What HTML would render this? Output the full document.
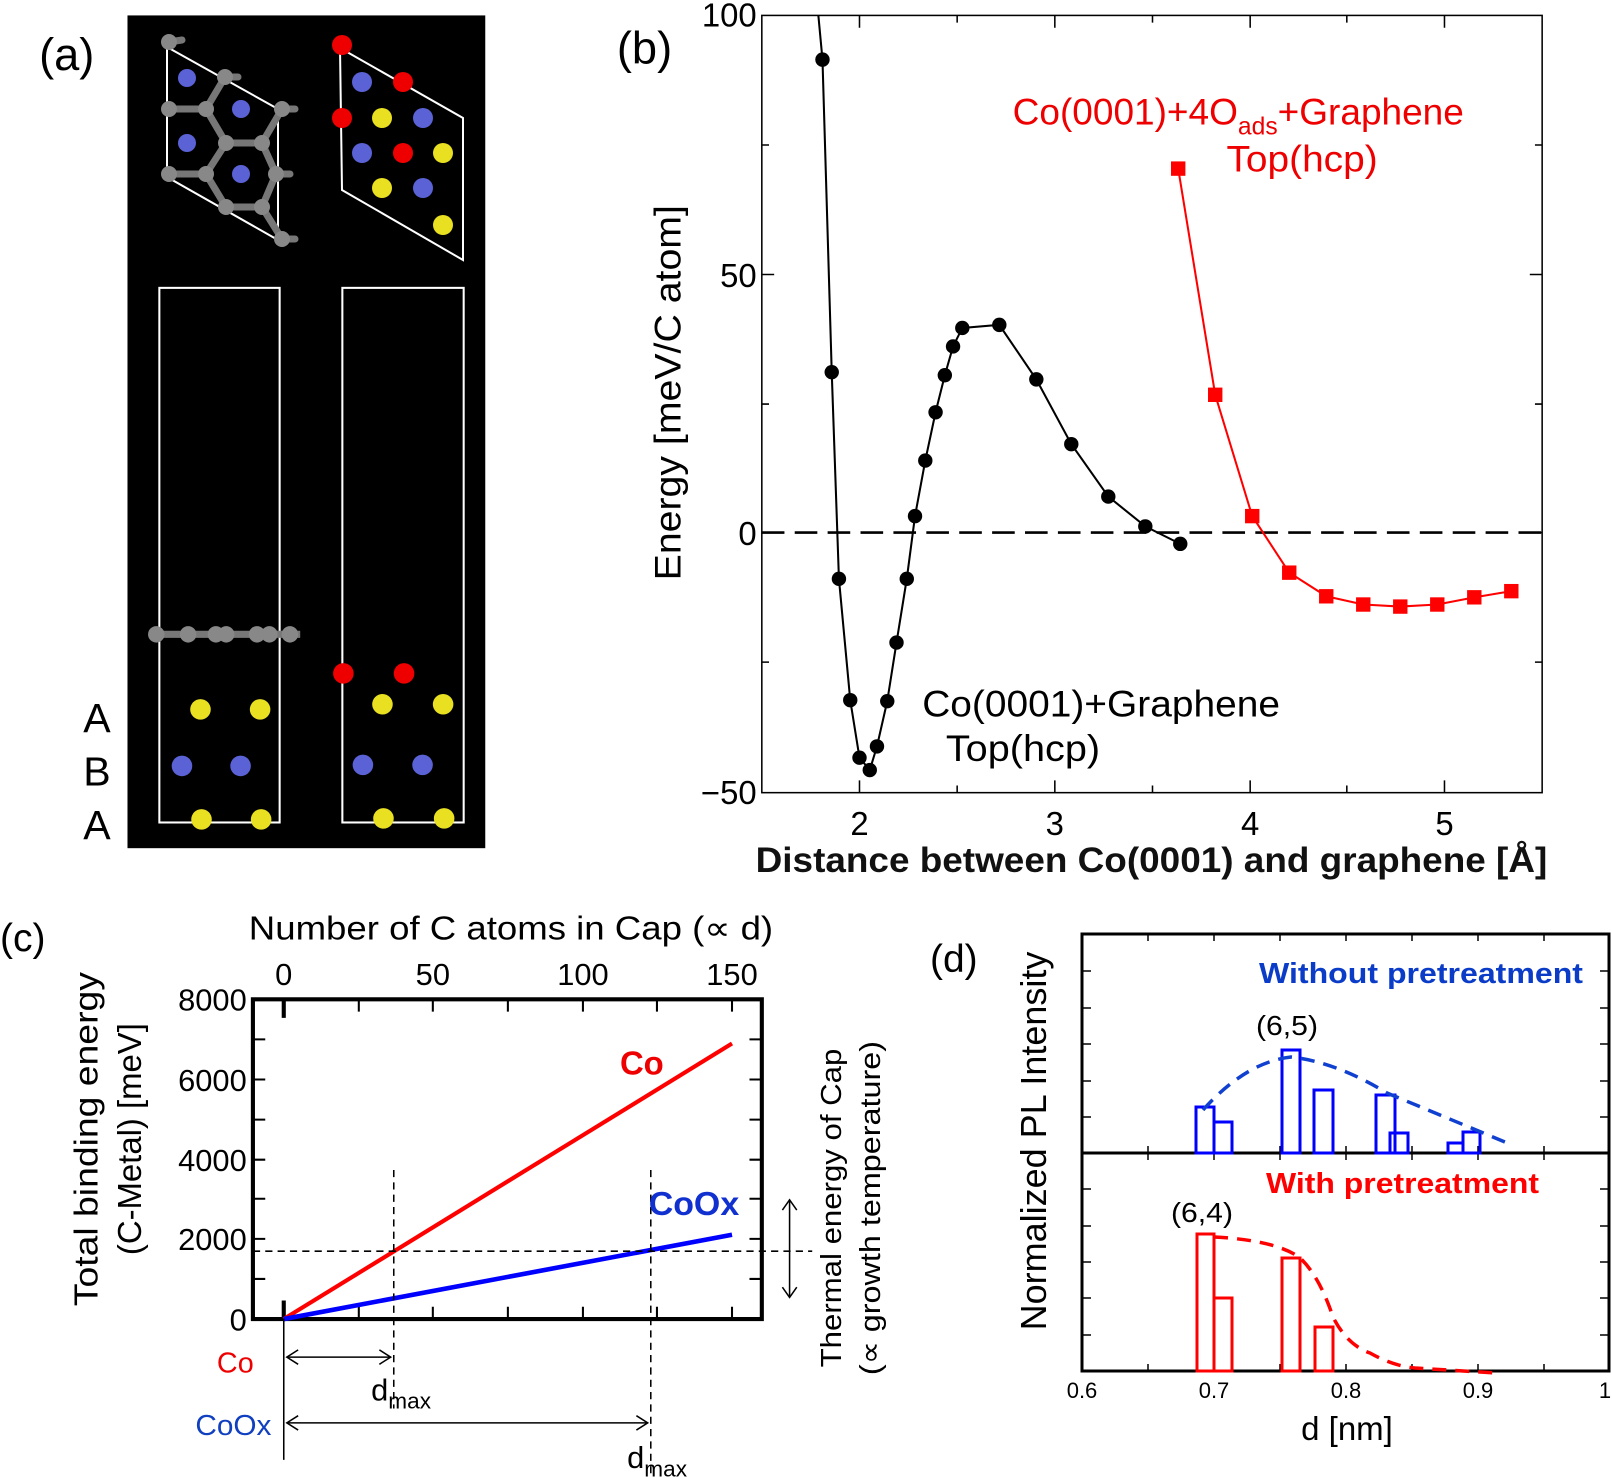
<!DOCTYPE html>
<html><head><meta charset="utf-8"><style>
body{margin:0;background:#fff}
svg{display:block;font-family:"Liberation Sans",sans-serif}
</style></head><body>
<svg width="1612" height="1477" viewBox="0 0 1612 1477" xmlns="http://www.w3.org/2000/svg">
<g transform="scale(1.0281)">
<!-- Panel a -->
<text x="38" y="68" font-size="44">(a)</text>
<rect x="124" y="15" width="348" height="810" fill="#000"/>
<g stroke="#fff" stroke-width="2" fill="none">
<rect x="155" y="280" width="117" height="520"/>
<rect x="333" y="280" width="118" height="520"/>
</g>
<line x1="146" y1="617" x2="292" y2="617" stroke="#777" stroke-width="7"/>
<g fill="#888">
<circle cx="152" cy="617" r="8"/><circle cx="183" cy="617" r="8"/><circle cx="210" cy="617" r="8"/><circle cx="220" cy="617" r="8"/><circle cx="250" cy="617" r="8"/><circle cx="262" cy="617" r="8"/><circle cx="282" cy="617" r="8"/>
</g>
<g fill="#5a62d6"><circle cx="177" cy="745" r="10"/><circle cx="234" cy="745" r="10"/><circle cx="353" cy="744" r="10"/><circle cx="411" cy="744" r="10"/></g>
<g fill="#e00"><circle cx="334" cy="655" r="10"/><circle cx="393" cy="655" r="10"/></g>
<g fill="#e8e020">
<circle cx="195" cy="690" r="10"/><circle cx="253" cy="690" r="10"/><circle cx="196" cy="797" r="10"/><circle cx="254" cy="797" r="10"/>
<circle cx="372" cy="685" r="10"/><circle cx="431" cy="685" r="10"/><circle cx="373" cy="796" r="10"/><circle cx="432" cy="796" r="10"/>
</g>
<g font-size="40"><text x="81" y="712">A</text><text x="81" y="764">B</text><text x="81" y="816">A</text></g>

<!-- Panel b -->
<text x="600" y="62" font-size="44">(b)</text>
<rect x="741" y="15" width="759" height="756" fill="none" stroke="#000" stroke-width="1.5"/>
<g stroke="#000" stroke-width="1.5">
<path d="M836,771v-12M1026,771v-12M1216,771v-12M1405,771v-12M836,15v12M1026,15v12M1216,15v12M1405,15v12"/>
<path d="M931,771v-7M1121,771v-7M1310,771v-7M931,15v7M1121,15v7M1310,15v7"/>
<path d="M741,267h12M741,518h12M1500,267h-12M1500,518h-12M741,141h7M741,393h7M741,644h7M1500,141h-7M1500,393h-7M1500,644h-7"/>
</g>
<line x1="741" y1="518" x2="1500" y2="518" stroke="#000" stroke-width="2.5" stroke-dasharray="22,10"/>
<g font-size="32" text-anchor="end"><text x="736" y="26">100</text><text x="736" y="279">50</text><text x="736" y="530">0</text><text x="736" y="782">−50</text></g>
<g font-size="32" text-anchor="middle"><text x="836" y="812">2</text><text x="1026" y="812">3</text><text x="1216" y="812">4</text><text x="1405" y="812">5</text></g>
<text x="735" y="848" font-size="34" font-weight="bold" fill="#111" textLength="770" lengthAdjust="spacingAndGlyphs">Distance between Co(0001) and graphene [Å]</text>
<text transform="translate(662,382) rotate(-90)" font-size="36" text-anchor="middle" textLength="365" lengthAdjust="spacingAndGlyphs">Energy [meV/C atom]</text>
<polyline fill="none" stroke="#000" stroke-width="2" points="796,15 800,58 809,362 816,563 827,681 836,737 846,749 853,726 863,682 872,625 882,563 890,502 900,448 910,401 919,365 927,337 936,319 972,316 1008,369 1042,432 1078,483 1114,512 1148,529"/>
<g fill="#000">
<circle cx="800" cy="58" r="7"/><circle cx="809" cy="362" r="7"/><circle cx="816" cy="563" r="7"/><circle cx="827" cy="681" r="7"/><circle cx="836" cy="737" r="7"/><circle cx="846" cy="749" r="7"/><circle cx="853" cy="726" r="7"/><circle cx="863" cy="682" r="7"/><circle cx="872" cy="625" r="7"/><circle cx="882" cy="563" r="7"/><circle cx="890" cy="502" r="7"/><circle cx="900" cy="448" r="7"/><circle cx="910" cy="401" r="7"/><circle cx="919" cy="365" r="7"/><circle cx="927" cy="337" r="7"/><circle cx="936" cy="319" r="7"/><circle cx="972" cy="316" r="7"/><circle cx="1008" cy="369" r="7"/><circle cx="1042" cy="432" r="7"/><circle cx="1078" cy="483" r="7"/><circle cx="1114" cy="512" r="7"/><circle cx="1148" cy="529" r="7"/>
</g>
<polyline fill="none" stroke="#f00" stroke-width="2" points="1146,164 1182,384 1218,502 1254,557 1290,580 1326,588 1362,590 1398,588 1434,581 1470,575"/>
<g fill="#f00">
<rect x="1139" y="157" width="14" height="14"/><rect x="1175" y="377" width="14" height="14"/><rect x="1211" y="495" width="14" height="14"/><rect x="1247" y="550" width="14" height="14"/><rect x="1283" y="573" width="14" height="14"/><rect x="1319" y="581" width="14" height="14"/><rect x="1355" y="583" width="14" height="14"/><rect x="1391" y="581" width="14" height="14"/><rect x="1427" y="574" width="14" height="14"/><rect x="1463" y="568" width="14" height="14"/>
</g>
<text x="985" y="121" font-size="36" fill="#e00">Co(0001)+4O<tspan font-size="24" dy="10">ads</tspan><tspan dy="-10">+Graphene</tspan></text>
<text x="1193" y="167" font-size="36" fill="#e00" textLength="147" lengthAdjust="spacingAndGlyphs">Top(hcp)</text>
<text x="897" y="697" font-size="36" textLength="348" lengthAdjust="spacingAndGlyphs">Co(0001)+Graphene</text>
<text x="920" y="740" font-size="36" textLength="150" lengthAdjust="spacingAndGlyphs">Top(hcp)</text>

<!-- Panel c -->
<text x="0" y="925" font-size="38">(c)</text>
<text x="497" y="914" font-size="32" text-anchor="middle" textLength="510" lengthAdjust="spacingAndGlyphs">Number of C atoms in Cap (∝ d)</text>
<g font-size="30" text-anchor="middle"><text x="276" y="958">0</text><text x="421" y="958">50</text><text x="567" y="958">100</text><text x="712" y="958">150</text></g>
<g font-size="30" text-anchor="end"><text x="240" y="983">8000</text><text x="240" y="1061">6000</text><text x="240" y="1139">4000</text><text x="240" y="1216">2000</text><text x="240" y="1294">0</text></g>
<rect x="246" y="972" width="495" height="311" fill="none" stroke="#000" stroke-width="4"/>
<g stroke="#000" stroke-width="2">
<path d="M349,972v12M421,972v12M494,972v12M567,972v12M639,972v12M712,972v12M349,1283v-12M421,1283v-12M494,1283v-12M567,1283v-12M639,1283v-12M712,1283v-12"/>
<path d="M246,1011h12M246,1050h12M246,1089h12M246,1128h12M246,1166h12M246,1205h12M246,1244h12M741,1011h-12M741,1050h-12M741,1089h-12M741,1128h-12M741,1166h-12M741,1205h-12M741,1244h-12"/>
</g>
<path d="M276,972v18M276,1283v-18" stroke="#000" stroke-width="4"/>
<line x1="276" y1="1283" x2="712" y2="1015" stroke="#f00" stroke-width="4"/>
<line x1="276" y1="1283" x2="712" y2="1201" stroke="#00f" stroke-width="4.5"/>
<g stroke="#000" stroke-width="1.5" stroke-dasharray="7,5" fill="none">
<line x1="246" y1="1217" x2="790" y2="1217"/>
<line x1="383" y1="1138" x2="383" y2="1370"/>
<line x1="633" y1="1138" x2="633" y2="1435"/>
</g>
<text x="603" y="1045" font-size="32" font-weight="bold" fill="#e00">Co</text>
<text x="631" y="1182" font-size="32" font-weight="bold" fill="#1030d0" textLength="88" lengthAdjust="spacingAndGlyphs">CoOx</text>
<g stroke="#000" stroke-width="1.5" fill="none">
<line x1="768" y1="1167" x2="768" y2="1262"/><path d="M761,1177l7,-10l7,10M761,1252l7,10l7,-10"/>
<line x1="276" y1="1283" x2="276" y2="1420"/>
<line x1="279" y1="1320" x2="380" y2="1320"/><path d="M290,1313l-11,7l11,7M369,1313l11,7l-11,7"/>
<line x1="279" y1="1384" x2="630" y2="1384"/><path d="M290,1377l-11,7l11,7M619,1377l11,7l-11,7"/>
</g>
<text x="211" y="1335" font-size="28" fill="#e00">Co</text>
<text x="190" y="1396" font-size="28" fill="#1040c0" textLength="74" lengthAdjust="spacingAndGlyphs">CoOx</text>
<text x="361" y="1362" font-size="30">d<tspan font-size="22" dy="8">max</tspan></text>
<text x="610" y="1428" font-size="30">d<tspan font-size="22" dy="8">max</tspan></text>
<text transform="translate(95,1108) rotate(-90)" font-size="32" text-anchor="middle" textLength="325" lengthAdjust="spacingAndGlyphs">Total binding energy</text>
<text transform="translate(137,1108) rotate(-90)" font-size="32" text-anchor="middle">(C-Metal) [meV]</text>
<text transform="translate(818,1175) rotate(-90)" font-size="28" text-anchor="middle" textLength="310" lengthAdjust="spacingAndGlyphs">Thermal energy of Cap</text>
<text transform="translate(856,1175) rotate(-90)" font-size="28" text-anchor="middle" textLength="325" lengthAdjust="spacingAndGlyphs">(∝ growth temperature)</text>
</g>

<!-- Panel a top (true coords) -->
<g stroke="#fff" stroke-width="2" fill="none">
<polygon points="167,47 278,109 278,240 167,177"/>
<polygon points="340,48 463,118 463,260 342,190"/>
</g>
<g stroke="#777" stroke-width="7" stroke-linecap="round">
<line x1="169" y1="109" x2="206" y2="109"/><line x1="206" y1="109" x2="225" y2="77"/>
<line x1="206" y1="109" x2="226" y2="143"/><line x1="226" y1="143" x2="262" y2="143"/>
<line x1="262" y1="143" x2="282" y2="109"/><line x1="262" y1="143" x2="276" y2="174"/>
<line x1="226" y1="143" x2="206" y2="174"/><line x1="206" y1="174" x2="169" y2="174"/>
<line x1="206" y1="174" x2="226" y2="207"/><line x1="226" y1="207" x2="262" y2="207"/>
<line x1="262" y1="207" x2="276" y2="174"/><line x1="262" y1="207" x2="282" y2="239"/>
<line x1="169" y1="42" x2="182" y2="40"/><line x1="282" y1="109" x2="295" y2="109"/>
<line x1="282" y1="239" x2="295" y2="239"/><line x1="225" y1="77" x2="238" y2="77"/>
<line x1="276" y1="174" x2="290" y2="174"/>
</g>
<g fill="#888">
<circle cx="169" cy="42" r="8"/><circle cx="169" cy="109" r="8"/><circle cx="206" cy="109" r="8"/><circle cx="225" cy="77" r="8"/><circle cx="282" cy="109" r="8"/><circle cx="226" cy="143" r="8"/><circle cx="262" cy="143" r="8"/><circle cx="206" cy="174" r="8"/><circle cx="169" cy="174" r="8"/><circle cx="276" cy="174" r="8"/><circle cx="226" cy="207" r="8"/><circle cx="262" cy="207" r="8"/><circle cx="282" cy="239" r="8"/>
</g>
<g fill="#5a62d6">
<circle cx="187" cy="78" r="9"/><circle cx="241" cy="109" r="9"/><circle cx="187" cy="143" r="9"/><circle cx="241" cy="174" r="9"/>
<circle cx="362" cy="82" r="10"/><circle cx="423" cy="118" r="10"/><circle cx="362" cy="153" r="10"/><circle cx="423" cy="188" r="10"/>
</g>
<g fill="#e00"><circle cx="342" cy="45" r="10"/><circle cx="403" cy="82" r="10"/><circle cx="342" cy="118" r="10"/><circle cx="403" cy="153" r="10"/></g>
<g fill="#e8e020"><circle cx="382" cy="118" r="10"/><circle cx="443" cy="153" r="10"/><circle cx="382" cy="188" r="10"/><circle cx="443" cy="225" r="10"/></g>

<!-- Panel d (true coords) -->
<text x="930" y="972" font-size="39">(d)</text>
<text transform="translate(1046,1141) rotate(-90)" font-size="36" text-anchor="middle">Normalized PL Intensity</text>
<rect x="1082" y="934" width="527" height="437" fill="none" stroke="#000" stroke-width="3"/>
<line x1="1082" y1="1153" x2="1609" y2="1153" stroke="#000" stroke-width="3"/>
<g stroke="#000" stroke-width="1.5">
<path d="M1082,971h9M1082,1008h9M1082,1044h9M1082,1081h9M1082,1117h9M1082,1189h9M1082,1226h9M1082,1262h9M1082,1298h9M1082,1335h9"/>
<path d="M1609,971h-9M1609,1008h-9M1609,1044h-9M1609,1081h-9M1609,1117h-9M1609,1189h-9M1609,1226h-9M1609,1262h-9M1609,1298h-9M1609,1335h-9"/>
<path d="M1148,934v7M1214,934v7M1280,934v7M1346,934v7M1412,934v7M1478,934v7M1544,934v7"/>
<path d="M1148,1146v14M1214,1146v14M1280,1146v14M1346,1146v14M1412,1146v14M1478,1146v14M1544,1146v14"/>
<path d="M1148,1371v-7M1214,1371v-7M1280,1371v-7M1346,1371v-7M1412,1371v-7M1478,1371v-7M1544,1371v-7"/>
</g>
<g fill="none" stroke="#00f" stroke-width="3">
<rect x="1196" y="1107" width="18" height="46"/><rect x="1214" y="1122" width="18" height="31"/>
<rect x="1282" y="1050" width="18" height="103"/><rect x="1314" y="1090" width="19" height="63"/>
<rect x="1376" y="1095" width="19" height="58"/><rect x="1390" y="1133" width="18" height="20"/>
<rect x="1448" y="1143" width="15" height="10"/><rect x="1463" y="1132" width="17" height="21"/>
</g>
<path d="M1203,1110 Q1246,1062 1291,1057 Q1336,1062 1387,1093 L1505,1142" fill="none" stroke="#1040d0" stroke-width="3.5" stroke-dasharray="14,9"/>
<g fill="none" stroke="#f00" stroke-width="3">
<rect x="1197" y="1234" width="17" height="137"/><rect x="1214" y="1298" width="18" height="73"/>
<rect x="1282" y="1258" width="18" height="113"/><rect x="1315" y="1327" width="18" height="44"/>
</g>
<path d="M1214,1237 Q1274,1240 1299,1257 Q1319,1275 1333,1317 Q1347,1345 1370,1353 Q1393,1366 1415,1368 L1496,1373" fill="none" stroke="#f00" stroke-width="3.5" stroke-dasharray="14,9"/>
<text x="1259" y="983" font-size="29" font-weight="bold" fill="#0a3cc8" textLength="324" lengthAdjust="spacingAndGlyphs">Without pretreatment</text>
<text x="1256" y="1035" font-size="28" textLength="62" lengthAdjust="spacingAndGlyphs">(6,5)</text>
<text x="1266" y="1193" font-size="29" font-weight="bold" fill="#f00" textLength="273" lengthAdjust="spacingAndGlyphs">With pretreatment</text>
<text x="1171" y="1222" font-size="28" textLength="62" lengthAdjust="spacingAndGlyphs">(6,4)</text>
<g font-size="22" text-anchor="middle"><text x="1082" y="1398">0.6</text><text x="1214" y="1398">0.7</text><text x="1346" y="1398">0.8</text><text x="1478" y="1398">0.9</text><text x="1605" y="1398">1</text></g>
<text x="1347" y="1440" font-size="33" text-anchor="middle">d [nm]</text>
</svg>
</body></html>
